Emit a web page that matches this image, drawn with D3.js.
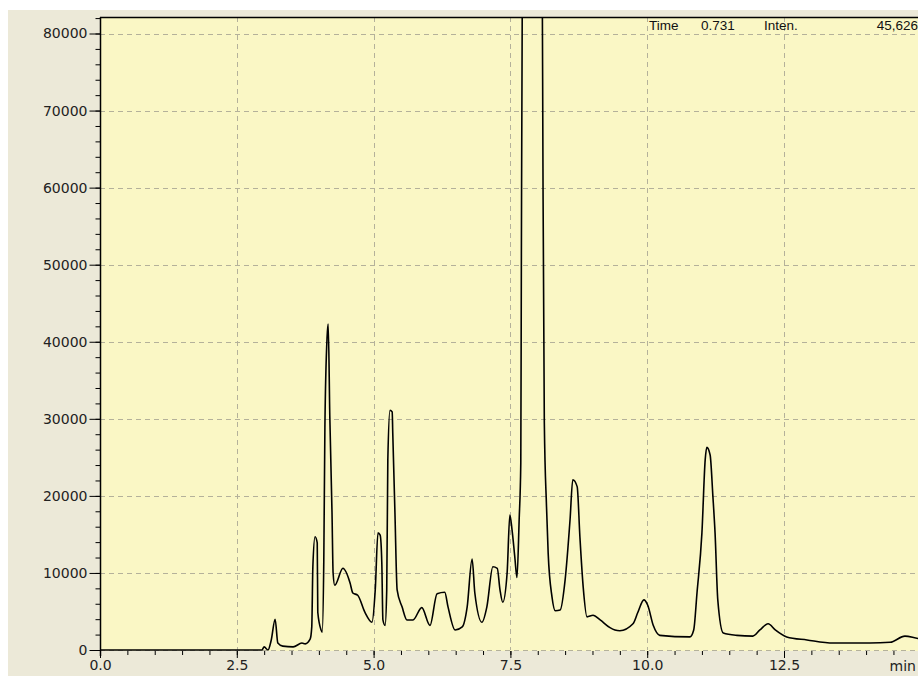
<!doctype html>
<html>
<head>
<meta charset="UTF-8">
<title>Chromatogram</title>
<script src="https://d3js.org/d3.v7.min.js"></script>
<style>
  body { margin: 0; background: #fff; }
  svg { display: block; }
</style>
</head>
<body>
<script>
// retention time (min) and intensity
var retentionTime = [0, 2.96, 3.00, 3.07, 3.13, 3.20, 3.25, 3.34, 3.53, 3.69, 3.75, 3.84, 3.87, 3.89, 3.93, 3.97, 3.98, 4.04, 4.06,
  4.09, 4.11, 4.15, 4.17, 4.20, 4.24, 4.26, 4.29, 4.44, 4.57, 4.62, 4.71, 4.84, 4.97, 5.03, 5.08, 5.12, 5.15, 5.17, 5.21,
  5.24, 5.26, 5.30, 5.34, 5.35, 5.39, 5.43, 5.52, 5.61, 5.72, 5.88, 6.03, 6.16, 6.30, 6.36, 6.49, 6.62, 6.71, 6.80, 6.85,
  6.98, 7.07, 7.18, 7.26, 7.31, 7.36, 7.44, 7.49, 7.53, 7.58, 7.62, 7.66, 7.69, 7.70, 7.72, 7.90, 8.08, 8.095, 8.12, 8.16,
  8.19, 8.26, 8.32, 8.41, 8.50, 8.59, 8.64, 8.72, 8.77, 8.83, 8.90, 9.01, 9.14, 9.32, 9.41, 9.50, 9.74, 9.83, 9.94, 10.01,
  10.11, 10.23, 10.78, 10.85, 10.91, 11.00, 11.06, 11.09, 11.15, 11.20, 11.24, 11.29, 11.39, 11.64, 11.93, 12.06, 12.21,
  12.34, 12.55, 12.92, 13.40, 14.07, 14.44, 14.71, 14.95, 15.2];
var intensity = [0, 0, 400, 0, 1300, 4000, 900, 500, 400, 900, 800, 1400, 3000, 10800, 14700, 13900, 4900, 2600, 2300,
  11700, 28900, 40600, 42300, 30200, 17800, 10000, 8400, 10600, 8700, 7400, 7100, 4900, 3600, 7800, 15200, 14900, 11300, 3900, 3200,
  7800, 24700, 31100, 30900, 28200, 17800, 7800, 5600, 3900, 3900, 5500, 3200, 7300, 7500, 5600, 2600, 3000, 5600, 11800, 7400,
  3600, 5600, 10800, 10600, 7800, 6200, 10000, 17500, 15600, 12100, 9400, 16900, 24300, 49600, 90000, 160000, 90000, 62500, 29500, 18600,
  12600, 6900, 5100, 5200, 9100, 16900, 22100, 21200, 14700, 8200, 4300, 4500, 3900, 2900, 2600, 2500, 3400, 4900, 6500, 5800,
  3200, 1900, 1700, 2600, 7400, 15200, 24700, 26300, 25300, 20000, 15200, 6500, 2200, 1900, 1800, 2600, 3400,
  2600, 1700, 1300, 900, 900, 1000, 1800, 1500, 1400];

var yTicks = [0, 10000, 20000, 30000, 40000, 50000, 60000, 70000, 80000];
var xTicks = [0, 2.5, 5.0, 7.5, 10.0, 12.5];
var readout = ["Time", "0.731", "Inten.", "45,626"];

var W = 918, H = 676;
var padL = 100, padT = 17, baseY = 650;
var pxPerMin = 54.72;

var svg = d3.select("body").append("svg").attr("width", W).attr("height", H);

// outer panel
svg.append("rect").attr("x", 8).attr("y", 10).attr("width", W - 8).attr("height", H - 10).attr("fill", "#ece9d8");

var x = d3.scaleLinear().domain([0, 15.2]).range([padL, padL + 15.2 * pxPerMin]);
var y = d3.scaleLinear().domain([0, 80000]).range([baseY, 33.5]);

// plot area
svg.append("rect").attr("x", padL).attr("y", padT).attr("width", W - padL + 20).attr("height", baseY + 1 - padT)
  .attr("fill", "#faf7c5");

svg.append("clipPath").attr("id", "clip").append("rect")
  .attr("x", padL).attr("y", padT).attr("width", W - padL + 20).attr("height", baseY + 2 - padT);

// grid
var grid = svg.append("g").attr("stroke", "#b4b19a").attr("stroke-width", 1).attr("stroke-dasharray", "5,4");
grid.selectAll("line.h").data(yTicks).enter().append("line")
  .attr("x1", padL).attr("x2", W).attr("y1", function(d){ return Math.round(y(d)) + 0.5; })
  .attr("y2", function(d){ return Math.round(y(d)) + 0.5; });
grid.selectAll("line.v").data(xTicks.slice(1)).enter().append("line")
  .attr("y1", padT).attr("y2", baseY).attr("x1", function(d){ return Math.round(x(d)) + 0.5; })
  .attr("x2", function(d){ return Math.round(x(d)) + 0.5; });

// trace
var line = d3.line().curve(d3.curveMonotoneX)
  .x(function(d, i){ return x(retentionTime[i]); }).y(function(d){ return y(d); });
svg.append("path").datum(intensity).attr("clip-path", "url(#clip)")
  .attr("d", line).attr("fill", "none").attr("stroke", "#000").attr("stroke-width", 1.6)
  .attr("stroke-linejoin", "round");

// top border
svg.append("line").attr("x1", padL).attr("x2", W).attr("y1", padT + 0.5).attr("y2", padT + 0.5)
  .attr("stroke", "#000").attr("stroke-width", 1.5);

// y axis
var font = "'DejaVu Sans', Verdana, sans-serif";
var yAxis = svg.append("g").attr("transform", "translate(" + (padL + 0.5) + ",0)")
  .call(d3.axisLeft(y).tickValues(yTicks).tickSize(11).tickPadding(2).tickFormat(d3.format("d")));
yAxis.select(".domain").remove();
yAxis.selectAll("text").attr("font-family", font).attr("font-size", 14).attr("fill", "#222");
yAxis.selectAll("line").attr("stroke", "#000");

var yMinor = svg.append("g").attr("transform", "translate(" + (padL + 0.5) + ",0)")
  .call(d3.axisLeft(y).tickValues(d3.range(0, 82001, 2000)).tickSize(5).tickFormat(""));
yMinor.select(".domain").remove();
yMinor.selectAll("line").attr("stroke", "#000");

svg.append("line").attr("x1", padL + 0.5).attr("x2", padL + 0.5).attr("y1", padT).attr("y2", baseY + 6)
  .attr("stroke", "#000").attr("stroke-width", 1.5);

// x axis
var xAxis = svg.append("g").attr("transform", "translate(0," + (baseY + 1) + ")")
  .call(d3.axisBottom(x).tickValues(xTicks).tickSize(7).tickPadding(2).tickFormat(d3.format(".1f")));
xAxis.select(".domain").remove();
xAxis.selectAll("text").attr("font-family", font).attr("font-size", 14).attr("fill", "#222");
xAxis.selectAll("line").attr("stroke", "#000");

var xMinor = svg.append("g").attr("transform", "translate(0," + (baseY + 1) + ")")
  .call(d3.axisBottom(x).tickValues(d3.range(0, 15.01, 0.5)).tickSize(4).tickFormat(""));
xMinor.select(".domain").remove();
xMinor.selectAll("line").attr("stroke", "#000");

svg.append("text").attr("x", 916).attr("y", 671).attr("text-anchor", "end")
  .attr("font-family", font).attr("font-size", 14).attr("fill", "#222").text("min");

// readout
var rx = [649, 701, 764, 918];
svg.selectAll("text.readout").data(readout).enter().append("text").attr("class", "readout")
  .attr("x", function(d, i){ return rx[i]; }).attr("y", 30)
  .attr("text-anchor", function(d, i){ return i == 3 ? "end" : "start"; })
  .attr("font-family", "'Liberation Sans', Arial, sans-serif").attr("font-size", 13.5).attr("fill", "#111")
  .text(function(d){ return d; });
</script>
</body>
</html>
